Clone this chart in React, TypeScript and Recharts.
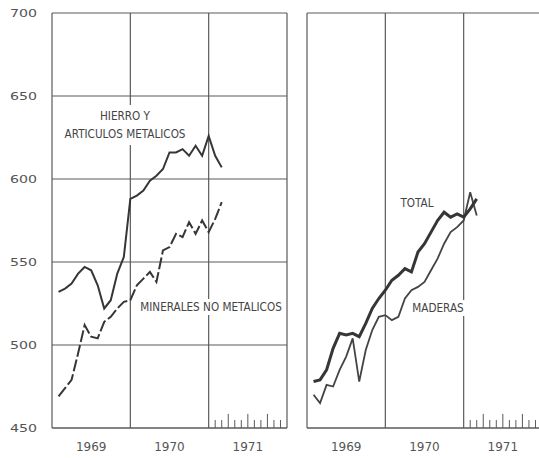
import React from 'react';
import { LineChart, Line, XAxis, YAxis, CartesianGrid, ReferenceLine } from 'recharts';

// month index (1 = Jan 1969)
const monthIndex = [1, 2, 3, 4, 5, 6, 7, 8, 9, 10, 11, 12, 13, 14, 15, 16, 17, 18, 19, 20, 21, 22, 23, 24, 25, 26];

const hierro = [532, 534, 537, 543, 547, 545, 536, 522, 527, 543, 553, 588, 590, 593, 599, 602, 606, 616, 616, 618, 614, 620, 614, 626, 614, 607];
const minerales = [469, 474, 479, 495, 512, 505, 504, 514, 517, 522, 526, 527, 536, 540, 544, 538, 557, 559, 567, 565, 574, 567, 575, 568, 576, 586];
const total = [478, 479, 485, 498, 507, 506, 507, 505, 513, 522, 528, 533, 539, 542, 546, 544, 556, 561, 568, 575, 580, 577, 579, 577, 582, 588];
const maderas = [470, 465, 476, 475, 485, 493, 504, 478, 497, 509, 517, 518, 515, 517, 528, 533, 535, 538, 545, 552, 561, 568, 571, 575, 592, 578];

const yTicks = [450, 500, 550, 600, 650, 700];
const yearTicks = [6, 18, 30];
const yearLabels = ['1969', '1970', '1971'];
const yearBounds = [12, 24, 36];
const minorTicks = [25, 26, 27, 28, 29, 30, 31, 32, 33, 34, 35];
const quarterTicks = [27, 30, 33];

const leftData = monthIndex.map((m, i) => ({ m, hierro: hierro[i], minerales: minerales[i] }));
const rightData = monthIndex.map((m, i) => ({ m, total: total[i], maderas: maderas[i] }));

const GRID = '#5a5a5a';
const INK = '#363636';
const FONT = '"DejaVu Sans", sans-serif';

const YTick = (props: any) => {
  const { x, y, payload } = props;
  return (
    <text x={x} y={y} dy={4} textAnchor="end" fill="#555" fontSize={11} fontFamily={FONT}
      textLength={27} lengthAdjust="spacingAndGlyphs">
      {payload.value}
    </text>
  );
};

const XTick = (props: any) => {
  const { x, y, payload } = props;
  const idx = yearTicks.indexOf(payload.value);
  return (
    <text x={x} y={y} dy={9} textAnchor="middle" fill="#555" fontSize={12} fontFamily={FONT}>
      {yearLabels[idx]}
    </text>
  );
};

function Panel({ data, showY, children }: { data: any[]; showY: boolean; children: React.ReactNode }) {
  return (
    <LineChart width={300} height={458} data={data} margin={{ top: 13, right: 13, left: 0, bottom: 0 }}>
      <CartesianGrid vertical={false} stroke={GRID} strokeWidth={1.2} />
      <XAxis dataKey="m" type="number" domain={[0, 36]} ticks={yearTicks} height={30}
        tickLine={false} tickSize={0} tickMargin={14} axisLine={{ stroke: GRID, strokeWidth: 1.2 }}
        tick={<XTick />} interval={0} allowDataOverflow />
      <YAxis type="number" domain={[450, 700]} ticks={yTicks} width={52} tickLine={false} tickSize={0}
        tickMargin={15} axisLine={{ stroke: GRID, strokeWidth: 1.2 }}
        tick={showY ? <YTick /> : false} interval={0} />
      {yearBounds.map((b) => (
        <ReferenceLine key={'b' + b} x={b} stroke={GRID} strokeWidth={1.2} ifOverflow="visible" />
      ))}
      {minorTicks.map((t) => (
        <ReferenceLine key={'t' + t} segment={[{ x: t, y: 450 }, { x: t, y: quarterTicks.includes(t) ? 458.5 : 454.8 }]}
          stroke={GRID} strokeWidth={1} ifOverflow="visible" />
      ))}
      {children}
    </LineChart>
  );
}

const labelStyle = (cx: number, cy: number, lh = 12): React.CSSProperties => ({
  position: 'absolute',
  left: cx,
  top: cy,
  transform: 'translate(-50%, -50%) scaleX(0.87)',
  fontFamily: FONT,
  fontSize: 12,
  lineHeight: lh + 'px',
  color: '#444',
  background: '#fff',
  padding: '2px 2px',
  whiteSpace: 'nowrap',
  textAlign: 'center',
  zIndex: 5,
});

export default function App() {
  return (
    <div style={{ position: 'absolute', left: 0, top: 0, width: 539, height: 458, overflow: 'hidden', background: '#fff' }}>
      <div style={{ position: 'absolute', left: 0, top: 0 }}>
        <Panel data={leftData} showY={true}>
          <Line dataKey="hierro" stroke={INK} strokeWidth={2} dot={false} isAnimationActive={false} />
          <Line dataKey="minerales" stroke={INK} strokeWidth={2} strokeDasharray="12 3" dot={false} isAnimationActive={false} />
        </Panel>
      </div>
      <div style={{ position: 'absolute', left: 255, top: 0 }}>
        <Panel data={rightData} showY={false}>
          <Line dataKey="maderas" stroke="#444" strokeWidth={1.8} dot={false} isAnimationActive={false} />
          <Line dataKey="total" stroke={INK} strokeWidth={3} dot={false} isAnimationActive={false} />
        </Panel>
      </div>
      <div style={labelStyle(125, 125, 18)}>HIERRO Y<br />ARTICULOS METALICOS</div>
      <div style={labelStyle(211, 307)}>MINERALES NO METALICOS</div>
      <div style={labelStyle(417, 203)}>TOTAL</div>
      <div style={labelStyle(438, 308)}>MADERAS</div>
    </div>
  );
}
